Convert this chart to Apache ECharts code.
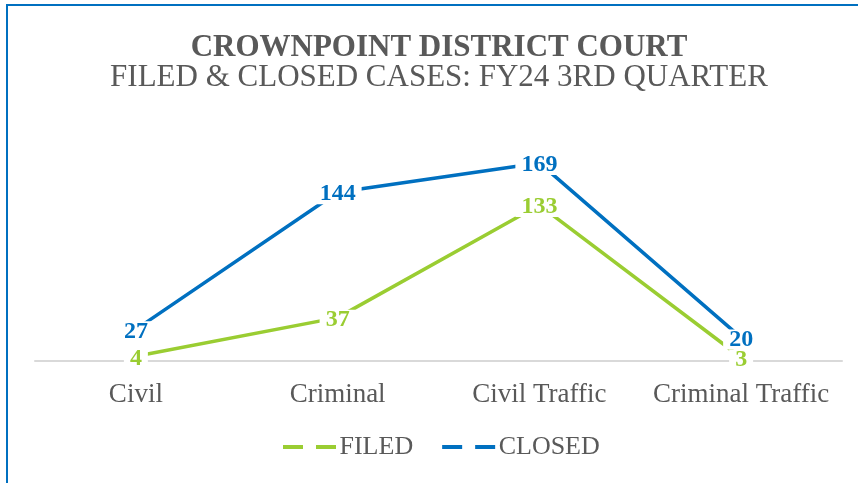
<!DOCTYPE html>
<html>
<head>
<meta charset="utf-8">
<script src="https://cdn.jsdelivr.net/npm/echarts@6/dist/echarts.min.js"></script>
<style>
html, body { margin: 0; padding: 0; background: #fff; overflow: hidden; }
#main { width: 858px; height: 483px; }
</style>
</head>
<body>
<div id="main"></div>
<script>
var categories = ['Civil', 'Criminal', 'Civil Traffic', 'Criminal Traffic'];
var filedCases = [4, 37, 133, 3];
var closedCases = [27, 144, 169, 20];

var myChart = echarts.init(document.getElementById('main'));
var serif = "'Liberation Serif', 'DejaVu Serif', serif";
var dashIcon = 'path://M0,0H20V4H0Z M33,0H53V4H33Z';

function labelStyle(color) {
	return {
		show: true,
		position: 'inside',
		offset: [0, 2],
		fontFamily: serif,
		fontSize: 24,
		lineHeight: 20,
		fontWeight: 'bold',
		color: color,
		backgroundColor: '#fff',
		padding: [0, 6]
	};
}

var option = {
	backgroundColor: '#fff',
	animation: false,
	title: [{
		text: 'CROWNPOINT DISTRICT COURT',
		left: 434,
		textAlign: 'center',
		top: 27,
		textStyle: { fontFamily: serif, fontSize: 31, fontWeight: 'bold', color: '#595959' }
	}, {
		text: 'FILED & CLOSED CASES: FY24 3RD QUARTER',
		left: 434,
		textAlign: 'center',
		top: 57,
		textStyle: { fontFamily: serif, fontSize: 31, fontWeight: 'normal', color: '#595959' }
	}],
	graphic: [{
		type: 'rect',
		shape: { x: 7, y: 5, width: 900, height: 600 },
		style: { fill: 'none', stroke: '#0070c0', lineWidth: 2 }
	}],
	legend: {
		bottom: 18,
		left: 278,
		itemWidth: 54,
		itemHeight: 4,
		itemGap: 29,
		textStyle: { fontFamily: serif, fontSize: 26, color: '#595959', padding: [0, 0, 0, -2] },
		data: [
			{ name: 'FILED', icon: dashIcon },
			{ name: 'CLOSED', icon: dashIcon }
		]
	},
	grid: { left: 35, right: 16, top: 150, bottom: 122, containLabel: false },
	xAxis: {
		type: 'category',
		data: categories,
		axisLine: { lineStyle: { color: '#d9d9d9', width: 2 } },
		axisTick: { show: false },
		axisLabel: { interval: 0, fontFamily: serif, fontSize: 27, color: '#595959', margin: 20 }
	},
	yAxis: {
		type: 'value',
		min: 0,
		max: 180,
		interval: 20,
		show: false,
		splitLine: { show: false }
	},
	series: [{
		name: 'FILED',
		type: 'line',
		data: filedCases,
		symbol: 'circle',
		symbolSize: 0,
		lineStyle: { color: '#9acd32', width: 3.5 },
		itemStyle: { color: '#9acd32' },
		label: labelStyle('#9acd32')
	}, {
		name: 'CLOSED',
		type: 'line',
		data: closedCases,
		symbol: 'circle',
		symbolSize: 0,
		lineStyle: { color: '#0070c0', width: 3.5 },
		itemStyle: { color: '#0070c0' },
		label: labelStyle('#0070c0')
	}]
};
myChart.setOption(option);
</script>
</body>
</html>
